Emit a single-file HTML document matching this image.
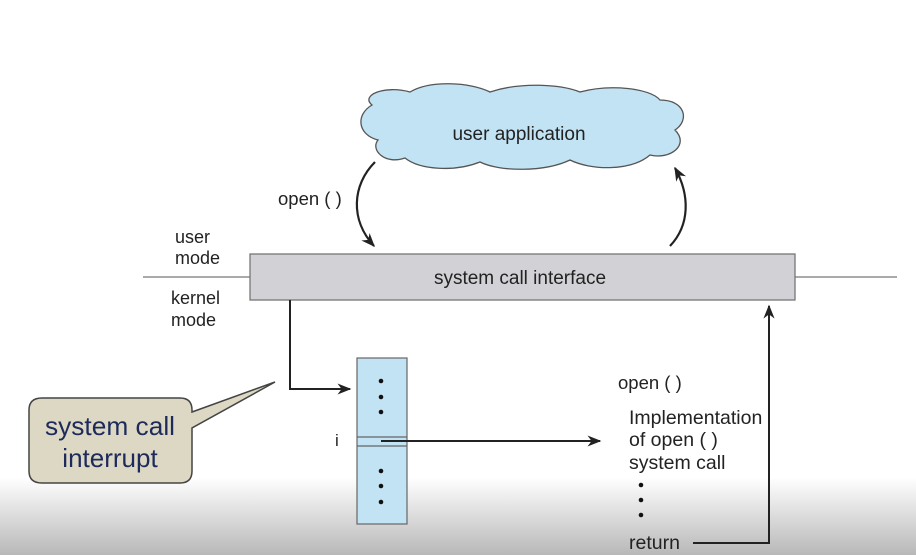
<!DOCTYPE html>
<html><head><meta charset="utf-8"><style>
html,body{margin:0;padding:0;width:916px;height:555px;overflow:hidden;background:#fff}
svg{display:block}
text{font-family:"Liberation Sans",sans-serif;fill:#222}
</style></head><body>
<svg width="916" height="555" viewBox="0 0 916 555" xmlns="http://www.w3.org/2000/svg">
<defs>
<linearGradient id="bg" x1="0" y1="0" x2="0" y2="1">
<stop offset="0" stop-color="#ffffff"/><stop offset="0.5" stop-color="#ffffff"/><stop offset="1" stop-color="#b8b8b8"/>
</linearGradient>
<marker id="ah2" viewBox="0 0 10 10" refX="9" refY="5" markerWidth="14" markerHeight="14" orient="auto" markerUnits="userSpaceOnUse">
<path d="M0,1 L10,5 L0,9 L3,5 z" fill="#222"/></marker>
</defs>
<rect x="0" y="400" width="916" height="155" fill="url(#bg)"/>
<path d="M372,105 C360,95 385,85 410,92 C430,80 470,82 490,92 C520,82 560,84 580,92 C610,84 650,88 660,100 C685,100 690,120 675,130 C690,145 670,160 650,155 C630,172 590,170 570,160 C545,172 500,172 480,162 C455,172 420,170 405,158 C385,165 370,150 378,140 C358,135 355,115 372,105 Z" fill="#c2e3f4" stroke="#555" stroke-width="1.3"/>
<text x="519" y="140" font-size="19" text-anchor="middle">user application</text>
<path d="M375,162 C352,185 350,220 374,246" fill="none" stroke="#222" stroke-width="2.2" marker-end="url(#ah2)"/>
<path d="M670,246 C690,225 690,195 675,168" fill="none" stroke="#222" stroke-width="2.2" marker-end="url(#ah2)"/>
<text x="278" y="205" font-size="18.5">open ( )</text>
<line x1="143" y1="277" x2="250" y2="277" stroke="#777" stroke-width="1.3"/>
<line x1="795" y1="277" x2="897" y2="277" stroke="#777" stroke-width="1.3"/>
<rect x="250" y="254" width="545" height="46" fill="#d2d2d6" stroke="#777" stroke-width="1.3"/>
<text x="520" y="284" font-size="19" text-anchor="middle">system call interface</text>
<text x="175" y="243" font-size="18">user</text>
<text x="175" y="264" font-size="18">mode</text>
<text x="171" y="304" font-size="18">kernel</text>
<text x="171" y="326" font-size="18">mode</text>
<polyline points="290,300 290,389 350,389" fill="none" stroke="#222" stroke-width="2" marker-end="url(#ah2)"/>
<rect x="357" y="358" width="50" height="166" fill="#c2e3f4" stroke="#666" stroke-width="1.2"/>
<line x1="357" y1="437" x2="407" y2="437" stroke="#666" stroke-width="1.2"/>
<line x1="357" y1="446" x2="407" y2="446" stroke="#666" stroke-width="1.2"/>
<g fill="#111"><circle cx="381" cy="381" r="2.3"/><circle cx="381" cy="397" r="2.3"/><circle cx="381" cy="412" r="2.3"/>
<circle cx="381" cy="471" r="2.3"/><circle cx="381" cy="486" r="2.3"/><circle cx="381" cy="502" r="2.3"/></g>
<text x="335" y="446" font-size="17">i</text>
<line x1="381" y1="441" x2="600" y2="441" stroke="#222" stroke-width="2" marker-end="url(#ah2)"/>
<text x="618" y="389" font-size="18.5">open ( )</text>
<text x="629" y="424" font-size="19.5">Implementation</text>
<text x="629" y="446" font-size="19.5">of open ( )</text>
<text x="629" y="469" font-size="19.5">system call</text>
<g fill="#111"><circle cx="641" cy="485" r="2.3"/><circle cx="641" cy="500" r="2.3"/><circle cx="641" cy="515" r="2.3"/></g>
<text x="629" y="549" font-size="19.5">return</text>
<polyline points="693,543 769,543 769,306" fill="none" stroke="#222" stroke-width="2" marker-end="url(#ah2)"/>
<path d="M42,398 L180,398 Q192,398 192,410 L192,412 L275,382 L192,428 L192,471 Q192,483 180,483 L42,483 Q29,483 29,471 L29,410 Q29,398 42,398 Z" fill="#dcd8c4" stroke="#444" stroke-width="1.5"/>
<text x="110" y="435" font-size="26" text-anchor="middle" textLength="130" lengthAdjust="spacingAndGlyphs" style="fill:#1d2a5a">system call</text>
<text x="110" y="467" font-size="26" text-anchor="middle" style="fill:#1d2a5a">interrupt</text>
</svg>
</body></html>
